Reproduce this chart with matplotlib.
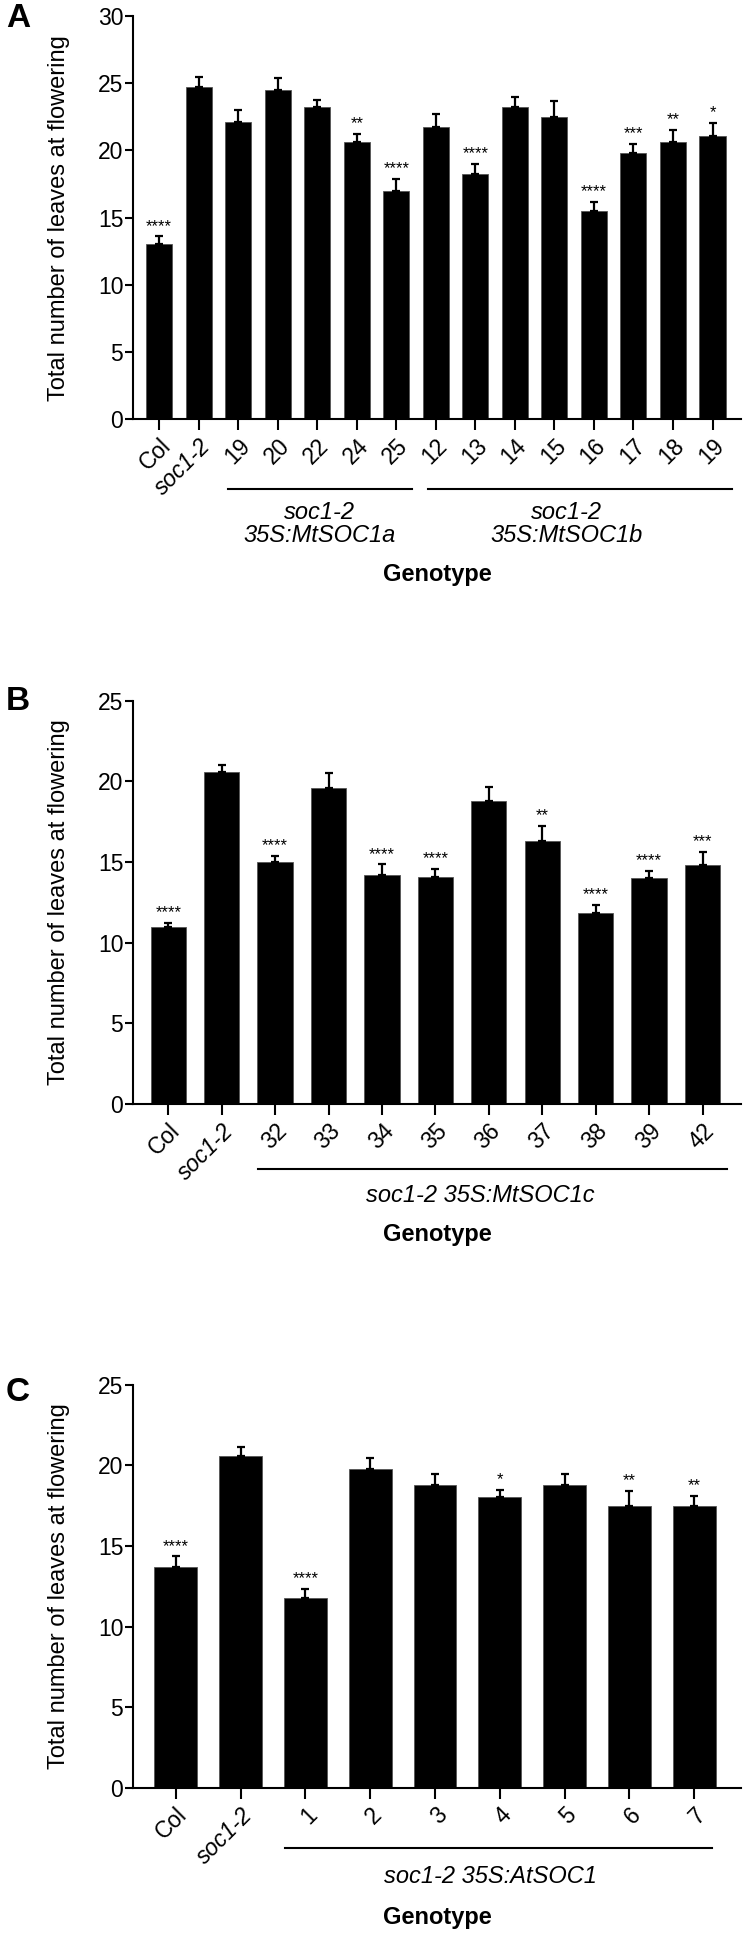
import numpy as np
import matplotlib
matplotlib.use("Agg")
import matplotlib.pyplot as plt

plt.rcParams['font.family'] = ['Liberation Sans', 'DejaVu Sans']

# panel A
a_labels = ['Col', 'soc1-2', '19', '20', '22', '24', '25', '12', '13', '14', '15', '16', '17', '18', '19']
a_means = [13.0, 24.7, 22.1, 24.5, 23.2, 20.6, 17.0, 21.75, 18.25, 23.2, 22.5, 15.5, 19.8, 20.6, 21.1]
a_err = [0.6, 0.75, 0.9, 0.9, 0.55, 0.65, 0.85, 0.95, 0.75, 0.75, 1.15, 0.65, 0.65, 0.9, 0.95]
a_sig = ['****', '', '', '', '', '**', '****', '', '****', '', '', '****', '***', '**', '*']

# panel B
b_labels = ['Col', 'soc1-2', '32', '33', '34', '35', '36', '37', '38', '39', '42']
b_means = [11.0, 20.55, 15.0, 19.6, 14.2, 14.1, 18.8, 16.3, 11.85, 14.0, 14.8]
b_err = [0.25, 0.45, 0.35, 0.9, 0.65, 0.45, 0.85, 0.95, 0.5, 0.45, 0.8]
b_sig = ['****', '', '****', '', '****', '****', '', '**', '****', '****', '***']

# panel C
c_labels = ['Col', 'soc1-2', '1', '2', '3', '4', '5', '6', '7']
c_means = [13.7, 20.55, 11.8, 19.8, 18.8, 18.05, 18.8, 17.45, 17.5]
c_err = [0.65, 0.6, 0.55, 0.65, 0.65, 0.45, 0.65, 0.95, 0.6]
c_sig = ['****', '', '****', '', '', '*', '', '**', '**']

fig = plt.figure(figsize=(7.48, 19.42), dpi=100)


def panel(bottom, labels, means, err, sig, ymax, groups, line_y, text_y, geno_y):
    ax = fig.add_axes([0.1778, bottom, 0.8128, 0.2077])
    x = np.arange(len(labels))
    ax.bar(x, means, width=0.66, color='black', edgecolor='#555555', linewidth=0.6, zorder=2)
    ax.errorbar(x, means, yerr=[np.zeros(len(err)), err], fmt='none', ecolor='black',
                elinewidth=1.6, capsize=3, capthick=1.6, zorder=3)
    for xi, m, e, s in zip(x, means, err, sig):
        if s:
            ax.annotate(s, (xi, m + e), xytext=(0, 2), textcoords='offset points',
                        ha='center', va='bottom', fontsize=12)
    ax.set_xlim(-0.66, len(labels) - 1 + 0.72)
    ax.set_ylim(0, ymax)
    ax.set_yticks(np.arange(0, ymax + 1, 5))
    ax.set_xticks(x)
    ax.set_xticklabels(labels, rotation=45, ha='right', rotation_mode='anchor')
    ax.get_xticklabels()[1].set_style('italic')
    for sp in ['top', 'right']:
        ax.spines[sp].set_visible(False)
    for sp in ['left', 'bottom']:
        ax.spines[sp].set_linewidth(1.5)
    ax.tick_params(axis='y', length=6, width=1.5, labelsize=16.5, pad=1)
    ax.tick_params(axis='x', length=8, width=1.5, labelsize=16.5, pad=3)
    ax.set_ylabel('Total number of leaves at flowering', fontsize=17)
    ax.yaxis.set_label_coords(-0.104, 0.5)
    tr = ax.get_xaxis_transform()
    for x0, x1, xc, txt in groups:
        ax.plot([x0, x1], [line_y, line_y], color='black', lw=1.5, transform=tr, clip_on=False)
        ax.text(xc, text_y, txt, transform=tr, ha='center', va='center',
                fontsize=17, style='italic', linespacing=1.0)
    ax.text(0.5, geno_y, 'Genotype', transform=ax.transAxes, ha='center', va='center',
            fontsize=17, fontweight='bold')
    return ax


panel(0.7841, a_labels, a_means, a_err, a_sig, 30,
      [(1.75, 6.4, 4.05, 'soc1-2\n35S:MtSOC1a'), (6.8, 14.5, 10.3, 'soc1-2\n35S:MtSOC1b')],
      -0.1728, -0.260, -0.3836)
panel(0.4315, b_labels, b_means, b_err, b_sig, 25,
      [(1.68, 10.45, 5.85, 'soc1-2 35S:MtSOC1c')],
      -0.161, -0.2256, -0.3223)
panel(0.0793, c_labels, c_means, c_err, c_sig, 25,
      [(1.68, 8.28, 4.85, 'soc1-2 35S:AtSOC1')],
      -0.1487, -0.2206, -0.3222)

for y, letter in [(0.9907, 'A'), (0.6387, 'B'), (0.2829, 'C')]:
    fig.text(0.024, y, letter, fontsize=24, fontweight='bold', ha='center', va='center')

fig.savefig('out.png', dpi=100)
